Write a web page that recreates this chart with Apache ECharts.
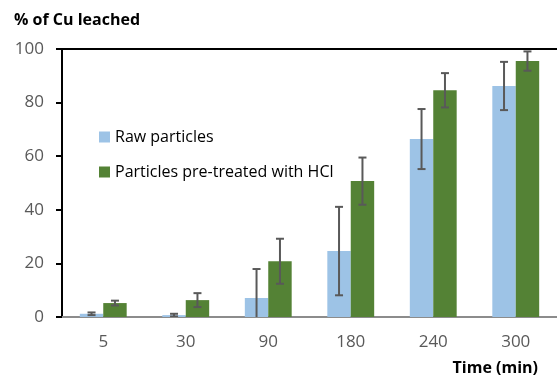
<!DOCTYPE html>
<html>
<head>
<meta charset="utf-8">
<script src="https://cdn.jsdelivr.net/npm/echarts@6/dist/echarts.min.js"></script>
<style>
  html, body { margin: 0; padding: 0; background: #fff; }
  #chart { width: 557px; height: 379px; }
</style>
</head>
<body>
<div id="chart"></div>
<script>
// Leaching time (min)
const times = ['5', '30', '90', '180', '240', '300'];
// Mean % of Cu leached and its error (±)
const rawMean = [1.2, 0.7, 7.1, 24.6, 66.4, 86.2];
const rawErr  = [0.5, 0.5, 10.8, 16.5, 11.2, 9.0];
const hclMean = [5.2, 6.3, 20.8, 50.7, 84.6, 95.5];
const hclErr  = [0.9, 2.6, 8.4, 8.8, 6.4, 3.6];
const yTicks = [0, 20, 40, 60, 80, 100];

const seriesNames = ['Raw particles', 'Particles pre-treated with HCl'];
const colors = ['#9DC3E6', '#548235'];
const BAR_FRAC = 0.284;   // bar width as a fraction of the category band
const FONT = '"Open Sans", "Noto Sans", sans-serif';

function errorSeries(means, errs, side) {
  return {
    type: 'custom',
    xAxisIndex: 0,
    yAxisIndex: 0,
    z: 5,
    clip: true,
    data: means.map((m, i) => [i, m - errs[i], m + errs[i]]),
    renderItem: function (params, api) {
      const i = api.value(0);
      const band = api.size([1, 0])[0];
      const lo = api.coord([i, api.value(1)]);
      const hi = api.coord([i, api.value(2)]);
      const x = lo[0] + side * band * BAR_FRAC / 2;
      const cap = 4;
      const style = { stroke: '#595959', lineWidth: 2 };
      return {
        type: 'group',
        children: [
          { type: 'line', shape: { x1: x, y1: lo[1], x2: x, y2: hi[1] }, style: style },
          { type: 'line', shape: { x1: x - cap, y1: lo[1], x2: x + cap, y2: lo[1] }, style: style },
          { type: 'line', shape: { x1: x - cap, y1: hi[1], x2: x + cap, y2: hi[1] }, style: style }
        ]
      };
    }
  };
}

const chart = echarts.init(document.getElementById('chart'), null, { renderer: 'canvas' });
chart.setOption({
  animation: false,
  textStyle: { fontFamily: FONT },
  title: {
    text: '% of Cu leached',
    left: 9, top: 7,
    textStyle: { fontFamily: FONT, fontSize: 16, fontWeight: 'bold', color: '#000' }
  },
  legend: {
    orient: 'vertical',
    left: 94, top: 124,
    itemWidth: 11, itemHeight: 11, itemGap: 19,
    icon: 'rect',
    data: seriesNames,
    textStyle: { fontFamily: FONT, fontSize: 16, color: '#000' }
  },
  grid: { left: 62, right: -2, top: 49, bottom: 62, containLabel: false },
  xAxis: [
    {
      type: 'category',
      data: times,
      position: 'bottom',
      axisLine: { lineStyle: { color: '#8c8c8c', width: 2 } },
      axisTick: { show: false },
      axisLabel: { fontFamily: FONT, fontSize: 17, color: '#595959', margin: 17 }
    },
    {
      type: 'category',
      data: times,
      position: 'top',
      axisLine: { lineStyle: { color: '#000', width: 2 } },
      axisTick: { show: false },
      axisLabel: { show: false }
    }
  ],
  yAxis: {
    type: 'value',
    min: yTicks[0], max: yTicks[yTicks.length - 1], interval: 20,
    axisLine: { show: true, lineStyle: { color: '#000', width: 2 } },
    axisTick: { show: true, length: 6, lineStyle: { color: '#000', width: 2 } },
    axisLabel: { fontFamily: FONT, fontSize: 17, color: '#595959', margin: 18 },
    splitLine: { show: false }
  },
  graphic: [{
    type: 'text',
    right: 19, top: 360,
    style: { text: 'Time (min)', font: 'bold 16px ' + FONT, fill: '#000' }
  }],
  series: [
    {
      name: seriesNames[0], type: 'bar', data: rawMean,
      barWidth: (BAR_FRAC * 100) + '%', barGap: '0%',
      itemStyle: { color: colors[0] }
    },
    {
      name: seriesNames[1], type: 'bar', data: hclMean,
      barWidth: (BAR_FRAC * 100) + '%', barGap: '0%',
      itemStyle: { color: colors[1] }
    },
    errorSeries(rawMean, rawErr, -1),
    errorSeries(hclMean, hclErr, 1)
  ]
});
</script>
</body>
</html>
